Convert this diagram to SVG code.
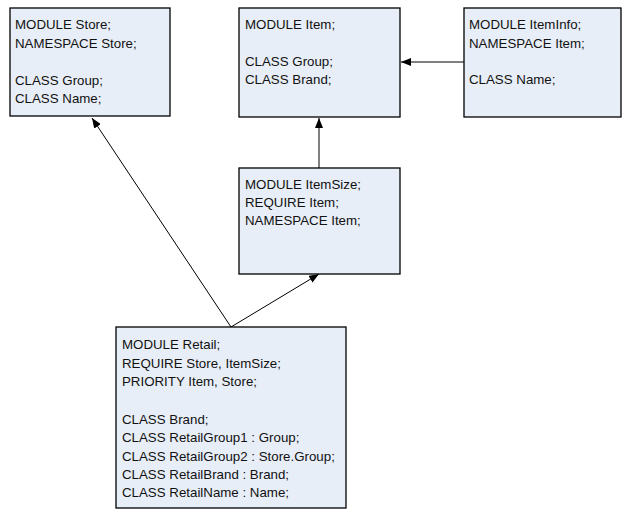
<svg xmlns="http://www.w3.org/2000/svg" width="632" height="520" viewBox="0 0 632 520">
<style>
.box{fill:#E8EEF8;stroke:#000;stroke-width:1.3}
.t{font-family:"Liberation Sans",Arial,sans-serif;font-size:13.3px;fill:#111}
.c{stroke:#000;stroke-width:1;fill:none}
</style>
<defs>
<marker id="ah" viewBox="0 0 10 8" refX="10" refY="4" markerWidth="10" markerHeight="8" markerUnits="userSpaceOnUse" orient="auto">
<path d="M0,0 L10,4 L0,8 Z" fill="#000"/>
</marker>
</defs>
<rect width="632" height="520" fill="#fff"/>
<g id="connectors">
<line class="c" x1="464" y1="62" x2="401" y2="62" marker-end="url(#ah)"/>
<line class="c" x1="319" y1="168" x2="319" y2="118" marker-end="url(#ah)"/>
<line class="c" x1="231" y1="327" x2="319" y2="274" marker-end="url(#ah)"/>
<line class="c" x1="231" y1="327" x2="92" y2="118" marker-end="url(#ah)"/>
</g>
<g id="store">
<rect class="box" x="10" y="8" width="160" height="108"/>
<text class="t" x="15" y="29">MODULE Store;</text>
<text class="t" x="15" y="48">NAMESPACE Store;</text>
<text class="t" x="15" y="85">CLASS Group;</text>
<text class="t" x="15" y="103">CLASS Name;</text>
</g>
<g id="item">
<rect class="box" x="239" y="8" width="161" height="109"/>
<text class="t" x="245" y="29">MODULE Item;</text>
<text class="t" x="245" y="66">CLASS Group;</text>
<text class="t" x="245" y="84">CLASS Brand;</text>
</g>
<g id="iteminfo">
<rect class="box" x="464" y="8" width="157" height="109"/>
<text class="t" x="469" y="29">MODULE ItemInfo;</text>
<text class="t" x="469" y="48">NAMESPACE Item;</text>
<text class="t" x="469" y="84">CLASS Name;</text>
</g>
<g id="itemsize">
<rect class="box" x="239" y="168" width="161" height="106"/>
<text class="t" x="245" y="189">MODULE ItemSize;</text>
<text class="t" x="245" y="207">REQUIRE Item;</text>
<text class="t" x="245" y="225">NAMESPACE Item;</text>
</g>
<g id="retail">
<rect class="box" x="116" y="327" width="230" height="181"/>
<text class="t" x="122" y="349">MODULE Retail;</text>
<text class="t" x="122" y="368">REQUIRE Store, ItemSize;</text>
<text class="t" x="122" y="386">PRIORITY Item, Store;</text>
<text class="t" x="122" y="424">CLASS Brand;</text>
<text class="t" x="122" y="442">CLASS RetailGroup1 : Group;</text>
<text class="t" x="122" y="461">CLASS RetailGroup2 : Store.Group;</text>
<text class="t" x="122" y="479">CLASS RetailBrand : Brand;</text>
<text class="t" x="122" y="497">CLASS RetailName : Name;</text>
</g>
</svg>
